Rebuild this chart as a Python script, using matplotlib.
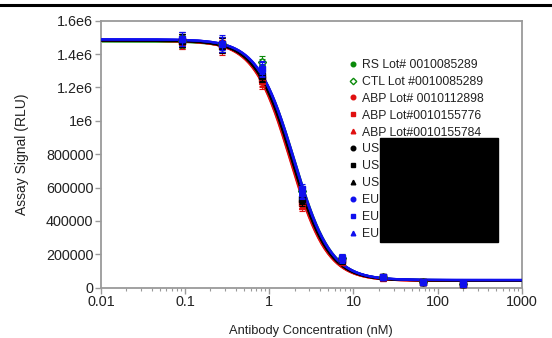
import numpy as np
import matplotlib
matplotlib.use("Agg")
import matplotlib.pyplot as plt
from matplotlib.lines import Line2D
from matplotlib.patches import Rectangle
from matplotlib.ticker import FixedLocator, FixedFormatter, LogLocator, NullFormatter

plt.rcParams['font.family'] = ['Liberation Sans', 'DejaVu Sans']

# ---- data ----
conc = [0.0914, 0.274, 0.823, 2.47, 7.41, 22.2, 66.7, 200]

labels = ["RS Lot# 0010085289", "CTL Lot #0010085289", "ABP Lot# 0010112898",
          "ABP Lot#0010155776", "ABP Lot#0010155784",
          "US Lot# 0010000001", "US Lot# 0010000002", "US Lot# 0010000003",
          "EU Lot# 0010000004", "EU Lot# 0010000005", "EU Lot# 0010000006"]
colors = ["#0a8a0a", "#0a8a0a", "#e01010", "#e01010", "#e01010",
          "#000000", "#000000", "#000000", "#1010ee", "#1010ee", "#1010ee"]
markers = ["o", "D", "o", "s", "^", "o", "s", "^", "o", "s", "^"]
filled = [True, False, True, True, True, True, True, True, True, True, True]

rs = [1.475e6, 1.45e6, 1.33e6, 0.56e6, 0.17e6, 0.065e6, 0.035e6, 0.025e6]
ctl = [1.48e6, 1.46e6, 1.35e6, 0.58e6, 0.18e6, 0.065e6, 0.035e6, 0.025e6]
abp1 = [1.47e6, 1.44e6, 1.23e6, 0.50e6, 0.16e6, 0.062e6, 0.033e6, 0.023e6]
abp2 = [1.48e6, 1.45e6, 1.25e6, 0.51e6, 0.16e6, 0.063e6, 0.034e6, 0.024e6]
abp3 = [1.47e6, 1.45e6, 1.24e6, 0.49e6, 0.155e6, 0.060e6, 0.033e6, 0.023e6]
us1 = [1.48e6, 1.46e6, 1.27e6, 0.52e6, 0.165e6, 0.063e6, 0.034e6, 0.025e6]
us2 = [1.48e6, 1.46e6, 1.27e6, 0.53e6, 0.165e6, 0.064e6, 0.034e6, 0.025e6]
us3 = [1.48e6, 1.45e6, 1.28e6, 0.53e6, 0.17e6, 0.064e6, 0.034e6, 0.025e6]
eu1 = [1.49e6, 1.46e6, 1.30e6, 0.56e6, 0.17e6, 0.066e6, 0.035e6, 0.025e6]
eu2 = [1.49e6, 1.46e6, 1.31e6, 0.59e6, 0.18e6, 0.066e6, 0.035e6, 0.026e6]
eu3 = [1.49e6, 1.47e6, 1.32e6, 0.57e6, 0.175e6, 0.066e6, 0.035e6, 0.025e6]
series = [rs, ctl, abp1, abp2, abp3, us1, us2, us3, eu1, eu2, eu3]

err = [0.04e6, 0.045e6, 0.04e6, 0.03e6, 0.02e6, 0.008e6, 0.004e6, 0.004e6]

# fitted 4PL parameters per series
fit_top = [1.476e6, 1.478e6, 1.480e6, 1.480e6, 1.480e6, 1.482e6, 1.482e6, 1.482e6, 1.488e6, 1.488e6, 1.488e6]
fit_bottom = [0.045e6, 0.045e6, 0.042e6, 0.042e6, 0.042e6, 0.044e6, 0.044e6, 0.044e6, 0.046e6, 0.046e6, 0.046e6]
fit_ec50 = [1.95, 2.0, 1.80, 1.82, 1.78, 1.86, 1.88, 1.88, 1.95, 1.98, 1.96]
fit_hill = [2.0, 2.0, 2.0, 2.0, 2.0, 2.0, 2.0, 2.0, 2.0, 2.0, 2.0]

yticks = [0, 200000, 400000, 600000, 800000, 1000000, 1200000, 1400000, 1600000]
ytick_labels = ["0", "200000", "400000", "600000", "800000", "1e6", "1.2e6", "1.4e6", "1.6e6"]
xticks = [0.01, 0.1, 1, 10, 100, 1000]
xtick_labels = ["0.01", "0.1", "1", "10", "100", "1000"]

# ---- figure ----
fig = plt.figure(figsize=(5.52, 3.38), dpi=100)
ax = fig.add_axes([101/552, 1-287.7/338, (521.7-101)/552, (287.7-20.7)/338])

xfit = np.logspace(-2, 3, 400)
for i, s in enumerate(series):
    yfit = fit_bottom[i] + (fit_top[i]-fit_bottom[i]) / (1 + (xfit/fit_ec50[i])**fit_hill[i])
    ax.plot(xfit, yfit, color=colors[i], lw=1.6, zorder=2+i*0.1)
for i, s in enumerate(series):
    ax.errorbar(conc, s, yerr=err, fmt=markers[i], color=colors[i], ms=4,
                mfc=colors[i] if filled[i] else 'white', mec=colors[i],
                elinewidth=0.8, capsize=2, capthick=0.8, zorder=4+i*0.1)

ax.set_xscale('log')
ax.set_xlim(0.01, 1000)
ax.set_ylim(0, 1.6e6)
ax.xaxis.set_major_locator(FixedLocator(xticks))
ax.xaxis.set_major_formatter(FixedFormatter(xtick_labels))
ax.xaxis.set_minor_locator(LogLocator(base=10, subs=np.arange(2, 10)))
ax.xaxis.set_minor_formatter(NullFormatter())
ax.yaxis.set_major_locator(FixedLocator(yticks))
ax.yaxis.set_major_formatter(FixedFormatter(ytick_labels))

for sp in ax.spines.values():
    sp.set_color('#9a9a9a')
    sp.set_linewidth(1.3)
ax.tick_params(axis='both', which='major', length=4, width=1, color='#9a9a9a',
               labelsize=10.4, labelcolor='#222222', pad=1.5)
ax.tick_params(axis='x', which='minor', length=2.5, width=0.8, color='#9a9a9a')

ax.set_xlabel("Antibody Concentration (nM)", fontsize=9.3, color='#222222', labelpad=11)
ax.set_ylabel("Assay Signal (RLU)", fontsize=10, color='#222222', labelpad=12)

handles = [Line2D([], [], linestyle='none', marker=markers[i], color=colors[i], ms=3.3,
                  mfc=colors[i] if filled[i] else 'white', mec=colors[i])
           for i in range(len(labels))]
leg = ax.legend(handles, labels, loc='upper left', bbox_to_anchor=((349-101)/420.7, 1-(59-20.7)/267),
                frameon=False, fontsize=8.8, handlelength=0.6, handletextpad=0.5,
                labelspacing=0.4, borderaxespad=0, borderpad=0)
for t in leg.get_texts():
    t.set_color('#222222')

# redaction box
fig.patches.append(Rectangle((380/552, 1-242/338), 118/552, 104/338, transform=fig.transFigure,
                             facecolor='black', edgecolor='black', zorder=10))
# top rule
fig.add_artist(Line2D([0, 1], [1-5/338, 1-5/338], transform=fig.transFigure, color='black', lw=2.2))

fig.savefig("out.png", dpi=100)
